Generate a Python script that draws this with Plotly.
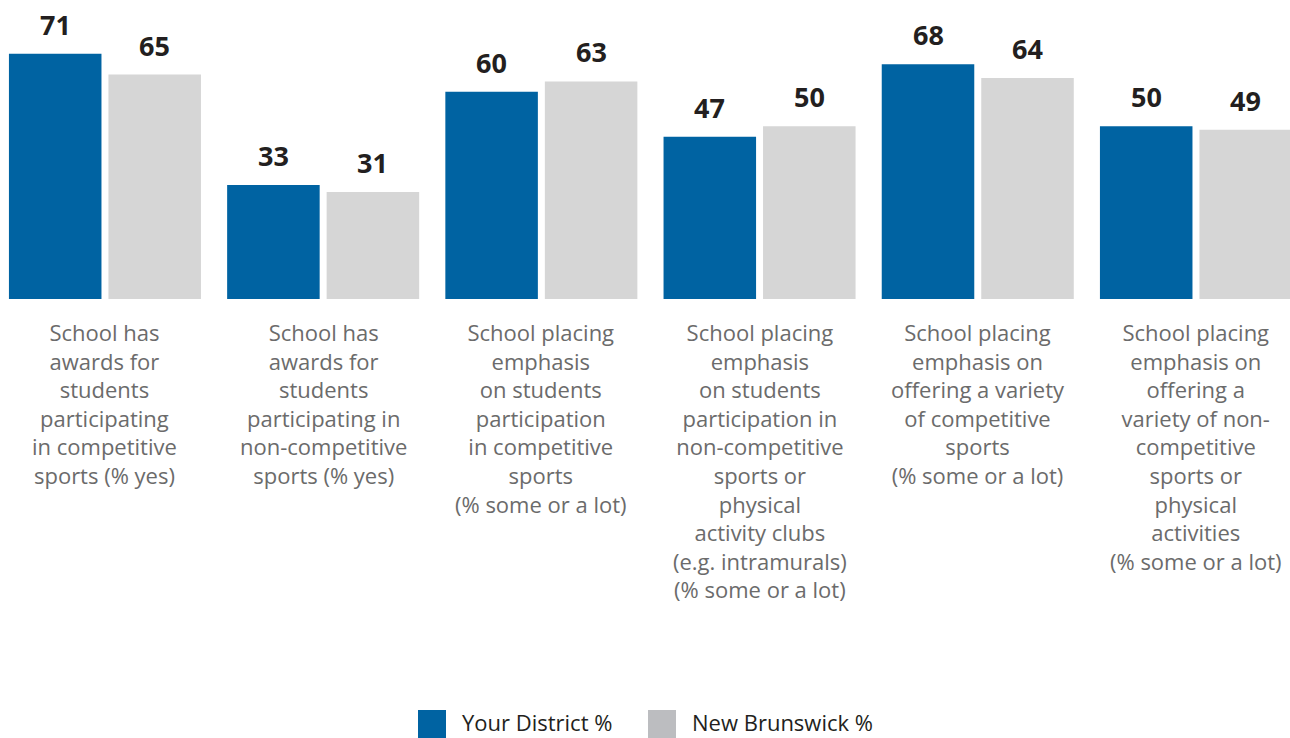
import plotly.graph_objects as go

# Survey items and results
categories = [
    "School has<br>awards for<br>students<br>participating<br>in competitive<br>sports (% yes)",
    "School has<br>awards for<br>students<br>participating in<br>non-competitive<br>sports (% yes)",
    "School placing<br>emphasis<br>on students<br>participation<br>in competitive<br>sports<br>(% some or a lot)",
    "School placing<br>emphasis<br>on students<br>participation in<br>non-competitive<br>sports or<br>physical<br>activity clubs<br>(e.g. intramurals)<br>(% some or a lot)",
    "School placing<br>emphasis on<br>offering a variety<br>of competitive<br>sports<br>(% some or a lot)",
    "School placing<br>emphasis on<br>offering a<br>variety of non-<br>competitive<br>sports or<br>physical<br>activities<br>(% some or a lot)",
]
district = [71, 33, 60, 47, 68, 50]
new_brunswick = [65, 31, 63, 50, 64, 49]
series_names = ["Your District %", "New Brunswick %"]

BLUE = "#0063a2"
GREY = "#d6d6d6"
GREY_KEY = "#bcbdc0"
FONT = "Open Sans"

W, H = 1290, 738
PLOT_H = 299
X_RANGE = [-0.481, 5.431]
Y_RANGE = [0, 86.6]
BARGAP = 0.088
GROUPGAP = 0.07

keys = [f"c{i}" for i in range(len(categories))]

fig = go.Figure()
fig.add_trace(go.Bar(x=keys, y=district, name=series_names[0],
                     marker=dict(color=BLUE, line=dict(width=0))))
fig.add_trace(go.Bar(x=keys, y=new_brunswick, name=series_names[1],
                     marker=dict(color=GREY, line=dict(width=0))))

# pixel width of one bar slot within a group
px_per_cat = W / (X_RANGE[1] - X_RANGE[0])
slot_px = px_per_cat * (1 - BARGAP) / 2

annotations = []
for k, a, b in zip(keys, district, new_brunswick):
    for val, shift in ((a, -slot_px / 2), (b, slot_px / 2)):
        annotations.append(dict(
            x=k, y=val, xref="x", yref="y", text=f"<b>{val}</b>",
            showarrow=False, xshift=shift, yshift=9, yanchor="bottom",
            font=dict(family=FONT, size=27, color="#231f20")))

for k, label in zip(keys, categories):
    annotations.append(dict(
        x=k, y=0, xref="x", yref="paper", text=label, showarrow=False,
        yanchor="top", yshift=-16, align="center",
        font=dict(family=FONT, size=22, color="#6b6b6b")))

# legend drawn as swatches with text
def py(p):
    return (PLOT_H - p) / PLOT_H

shapes = []
legend_items = [(418, BLUE, 461, series_names[0]), (648, GREY_KEY, 691, series_names[1])]
for x0, col, tx, name in legend_items:
    shapes.append(dict(type="rect", xref="paper", yref="paper",
                       x0=x0 / W, x1=(x0 + 28) / W, y0=py(738), y1=py(710),
                       fillcolor=col, line=dict(width=0)))
    annotations.append(dict(x=tx / W, y=py(722), xref="paper", yref="paper",
                            text=name, showarrow=False, xanchor="left", yanchor="middle",
                            borderpad=0,
                            font=dict(family=FONT, size=22, color="#231f20")))

fig.update_layout(
    width=W, height=H,
    margin=dict(l=0, r=0, t=0, b=H - PLOT_H),
    barmode="group", bargap=BARGAP, bargroupgap=GROUPGAP,
    plot_bgcolor="white", paper_bgcolor="white",
    showlegend=False,
    xaxis=dict(range=X_RANGE, showticklabels=False, showgrid=False,
               zeroline=False, showline=False, ticks=""),
    yaxis=dict(range=Y_RANGE, showticklabels=False, showgrid=False,
               zeroline=False, showline=False, ticks=""),
    annotations=annotations, shapes=shapes,
    font=dict(family=FONT),
)

fig.write_html("out.html")
